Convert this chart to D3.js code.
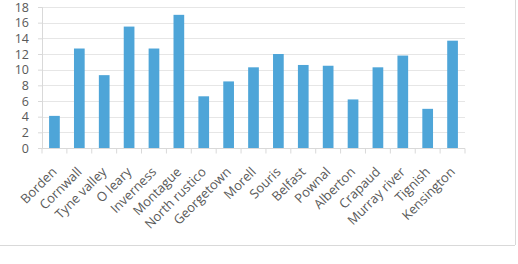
<!DOCTYPE html>
<html>
<head>
<meta charset="utf-8">
<script src="https://cdn.jsdelivr.net/npm/d3@7"></script>
<style>
	body { margin: 0; background: #fff; }
	svg text { font-family: "Open Sans", "Liberation Sans", sans-serif; fill: #595959; }
</style>
</head>
<body>
<svg id="chart" width="518" height="264"></svg>
<script>
var towns = ['Borden', 'Cornwall', 'Tyne valley', 'O leary', 'Inverness', 'Montague',
	'North rustico', 'Georgetown', 'Morell', 'Souris', 'Belfast', 'Pownal',
	'Alberton', 'Crapaud', 'Murray river', 'Tignish', 'Kensington'];
var values = [4.1, 12.7, 9.3, 15.5, 12.7, 17.0, 6.6, 8.5, 10.3, 12.0, 10.6, 10.5,
	6.2, 10.3, 11.8, 5.0, 13.7];
var yTicks = [0, 2, 4, 6, 8, 10, 12, 14, 16, 18];

var svg = d3.select('#chart'),
	margin = {top: 7, right: 53, bottom: 116, left: 42},
	width = +svg.attr('width') - margin.left - margin.right,
	height = +svg.attr('height') - margin.top - margin.bottom;

// outer frame (only right and bottom edges visible in the crop)
svg.append('line').attr('x1', 0).attr('x2', 515).attr('y1', 245.5).attr('y2', 245.5)
	.attr('stroke', '#d9d9d9');
svg.append('line').attr('x1', 515.5).attr('x2', 515.5).attr('y1', 0).attr('y2', 245)
	.attr('stroke', '#d9d9d9');

var g = svg.append('g').attr('transform', 'translate(' + margin.left + ',' + margin.top + ')');

var x = d3.scaleBand().domain(towns).range([0, width]).paddingInner(0.57).paddingOuter(0.285);
var y = d3.scaleLinear().domain([0, 18]).range([height, 0]);

// gridlines
g.append('g')
	.selectAll('line')
	.data(yTicks)
	.enter().append('line')
	.attr('x1', 0).attr('x2', width)
	.attr('y1', function (d) { return Math.round(y(d)) + 0.5; })
	.attr('y2', function (d) { return Math.round(y(d)) + 0.5; })
	.attr('stroke', '#e6e6e6');

// bars
g.append('g')
	.selectAll('rect')
	.data(values)
	.enter().append('rect')
	.attr('x', function (d, i) { return x(towns[i]); })
	.attr('y', function (d) { return y(d); })
	.attr('width', x.bandwidth())
	.attr('height', function (d) { return height - y(d); })
	.attr('fill', '#4ea5d8');

// y axis
var yAxis = g.append('g')
	.call(d3.axisLeft(y).tickValues(yTicks).tickSize(4).tickPadding(9));
yAxis.select('.domain').attr('stroke', '#d9d9d9').attr('d', 'M-4,0.5H0.5V' + (height + 0.5));
yAxis.selectAll('.tick line').attr('stroke', '#d9d9d9');
yAxis.selectAll('.tick text').attr('font-size', 12.5).style('fill', '#595959');

// x axis: tick marks on band boundaries
var xg = g.append('g').attr('transform', 'translate(0,' + (Math.round(height) + 0.5) + ')');
xg.append('line').attr('x1', 0).attr('x2', width).attr('stroke', '#d9d9d9');
xg.selectAll('line.tk')
	.data(d3.range(towns.length + 1))
	.enter().append('line')
	.attr('class', 'tk')
	.attr('x1', function (i) { return i * width / towns.length; })
	.attr('x2', function (i) { return i * width / towns.length; })
	.attr('y1', 0).attr('y2', 5)
	.attr('stroke', '#d9d9d9');

xg.selectAll('text')
	.data(towns)
	.enter().append('text')
	.attr('font-size', 13)
	.attr('text-anchor', 'end')
	.attr('transform', function (d) {
		var cx = x(d) + x.bandwidth() / 2;
		return 'translate(' + cx + ',21) rotate(-45)';
	})
	.attr('dy', '0.35em')
	.text(function (d) { return d; });
</script>
</body>
</html>
